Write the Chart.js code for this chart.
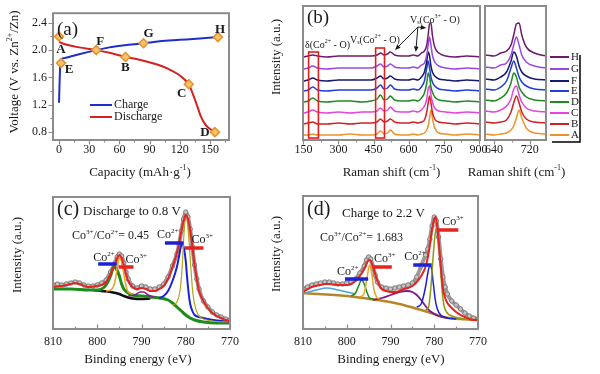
<!DOCTYPE html>
<html>
<head>
<meta charset="utf-8">
<title>Co3O4 cathode: voltage profile, Raman and XPS</title>
<script src="https://cdn.jsdelivr.net/npm/chart.js"></script>
<style>
  body { margin: 0; background: #ffffff; }
  #fig { position: relative; width: 600px; height: 374px; background: #ffffff; overflow: hidden; }
  #fig canvas { position: absolute; }
</style>
</head>
<body>
<div id="fig">
  <canvas id="chartA" width="245" height="186" style="left:0;top:0"></canvas>
  <canvas id="chartB1" width="240" height="186" style="left:258px;top:0"></canvas>
  <canvas id="chartB2" width="160" height="186" style="left:440px;top:0"></canvas>
  <canvas id="chartC" width="245" height="188" style="left:0;top:186px"></canvas>
  <canvas id="chartD" width="240" height="188" style="left:258px;top:186px"></canvas>
</div>

<script>
// ---------- (a) charge / discharge profile ----------
const chargeCap = [0, 0.3, 0.7, 1.2, 2, 4, 10, 20, 37, 50, 65, 84, 100, 120, 140, 158];
const chargeVolt = [1.23, 1.4, 1.6, 1.78, 1.86, 1.88, 1.9, 1.94, 2.0, 2.04, 2.07, 2.1, 2.13, 2.15, 2.17, 2.19];
const dischargeCap = [0, 3, 10, 20, 37, 50, 66, 80, 95, 108, 118, 124, 129, 133, 137, 141, 145, 149, 155];
const dischargeVolt = [2.12, 2.1, 2.07, 2.04, 2.0, 1.96, 1.9, 1.86, 1.8, 1.73, 1.65, 1.58, 1.5, 1.36, 1.2, 1.03, 0.92, 0.86, 0.8];
const stateLabels = ['A', 'B', 'C', 'D', 'E', 'F', 'G', 'H'];
const stateCap = [0, 66, 129, 155, 2, 37, 84, 158];
const stateVolt = [2.2, 1.9, 1.5, 0.8, 1.81, 2.0, 2.1, 2.19];
const capTicks = [0, 30, 60, 90, 120, 150];
const voltTicks = [0.8, 1.2, 1.6, 2.0, 2.4];

// ---------- (b) Raman spectra, stacked (intensity in a.u.) ----------
const ramanShift = [150, 170, 190, 210, 250, 300, 350, 400, 440, 465, 480, 495, 510, 522, 540, 570,
                    600, 620, 640, 655, 668, 678, 684, 690, 696, 702, 712, 730, 760, 800, 850, 906];
const ramanA = [5, 5, 6, 5, 5, 5, 6, 5, 5, 6, 9, 6, 7, 10, 6, 5, 5, 6, 5, 6, 7, 10, 14, 22, 30, 22, 12, 7, 6, 5, 6, 5];
const ramanB = [16, 17, 18, 16, 16, 17, 16, 17, 17, 18, 21, 18, 19, 21, 18, 17, 17, 18, 17, 18, 20, 28, 37, 44, 37, 28, 21, 18, 17, 16, 17, 16];
const ramanC = [27, 28, 30, 28, 27, 28, 27, 28, 28, 29, 32, 29, 30, 33, 29, 28, 28, 29, 28, 30, 34, 41, 51, 54, 45, 38, 32, 29, 28, 27, 28, 27];
const ramanD = [38, 39, 42, 39, 38, 39, 39, 38, 39, 41, 45, 40, 41, 44, 40, 39, 39, 40, 39, 42, 47, 57, 67, 63, 53, 48, 43, 40, 39, 38, 39, 38];
const ramanE = [49, 50, 53, 50, 49, 50, 50, 50, 50, 52, 55, 51, 52, 55, 51, 50, 50, 51, 50, 53, 59, 72, 79, 72, 63, 58, 54, 51, 50, 49, 50, 49];
const ramanF = [59, 60, 62, 60, 59, 60, 60, 60, 60, 62, 64, 61, 62, 64, 61, 60, 60, 61, 60, 63, 68, 79, 88, 84, 74, 68, 64, 61, 60, 59, 60, 59];
const ramanG = [71, 72, 74, 72, 71, 72, 72, 72, 72, 74, 76, 73, 74, 76, 73, 72, 72, 73, 72, 75, 77, 85, 95, 103, 95, 85, 78, 74, 72, 71, 72, 71];
const ramanH = [83, 84, 85, 84, 83, 84, 84, 84, 84, 85, 87, 85, 86, 88, 85, 84, 84, 85, 84, 87, 89, 95, 105, 116, 117, 105, 93, 87, 84, 83, 84, 83];
const ramanSpectra = [ramanA, ramanB, ramanC, ramanD, ramanE, ramanF, ramanG, ramanH];
const ramanColors = ['#ec922c', '#cf2222', '#e246de', '#1f8a22', '#1f3fd6', '#17186e', '#9b48e2', '#6e1b6e'];
const ramanTicks = [150, 300, 450, 600, 750, 900];
const ramanZoomTicks = [640, 720];

// ---------- (c) XPS Co 2p, discharged to 0.8 V: [binding energy, intensity] ----------
const cRaw = [[810, 44], [809, 45], [808, 44], [807, 45], [806, 46], [805, 47], [804, 46], [803, 44], [802, 43], [801, 43],
  [800, 44], [799, 46], [798, 49], [797, 57], [796, 66], [795.5, 72], [795, 75], [794.5, 73], [794, 66], [793.5, 57],
  [793, 50], [792, 43], [791, 41], [790, 43], [789, 42], [788, 40], [787, 40], [786, 42], [785, 45], [784, 52], [783, 63],
  [782, 75], [781.5, 85], [781, 98], [780.5, 110], [780, 117], [779.5, 112], [779, 100], [778.5, 82], [778, 64],
  [777.5, 50], [777, 40], [776, 28], [775, 22], [774, 17], [773, 14], [772, 12], [771, 10], [770, 9]];
const cFit = [[810, 42], [808, 43], [806, 45], [805, 46], [804, 45], [802, 42], [800, 43], [799, 44], [798, 47], [797, 55],
  [796, 65], [795.5, 71], [795, 74], [794.5, 71], [794, 64], [793.5, 55], [793, 48], [792, 42], [791, 40], [790, 41],
  [789, 40], [788, 38], [787, 38], [786, 40], [785, 43], [784, 50], [783, 62], [782, 76], [781.5, 86], [781, 98],
  [780.5, 108], [780, 114], [779.5, 110], [779, 99], [778.5, 82], [778, 64], [777.5, 50], [777, 38], [776, 28],
  [775, 21], [774, 16], [773, 13], [772, 11], [771, 9], [770, 8]];
const cCo2Low = [[810, 40], [806, 40], [802, 39], [800, 39], [799, 40], [798, 44], [797, 53], [796.3, 62], [795.8, 61],
  [795, 53], [794.5, 45], [794, 40], [793, 36], [792, 34], [790, 33], [788, 32], [786, 31], [784, 29], [783, 26],
  [782, 22], [781, 18], [780, 14], [779, 11], [778, 9], [776, 7], [773, 6], [770, 6]];
const cShirley = [[801, 39], [799, 38], [797, 37], [795, 35], [794, 33], [793, 31.5], [792, 30.5], [790, 30], [788, 30.5]];
const cCo2High = [[786, 31], [785, 33], [784, 38], [783, 48], [782, 62], [781.5, 73], [781, 84], [780.7, 85], [780.3, 78],
  [780, 68], [779.7, 52], [779.3, 34], [779, 25], [778.5, 18], [778, 14], [777, 12], [775, 10], [772, 8], [770, 7]];
const cCo3High = [[783, 24], [782, 27], [781.3, 38], [780.8, 62], [780.4, 95], [780, 112], [779.6, 106], [779.2, 84],
  [778.8, 58], [778.4, 36], [778, 25], [777.5, 17], [777, 13], [776, 10], [774, 8], [770, 7]];
const cCo3Low = [[798, 38], [797, 39], [796.3, 43], [795.8, 52], [795.3, 66], [794.9, 72], [794.5, 67], [794, 55],
  [793.5, 43], [793, 37], [792, 35]];
const cSat790 = [[793, 33], [791.5, 34], [790.3, 37], [789.5, 37], [788.5, 34], [787, 32]];
const cSat805 = [[808, 42], [806.5, 44], [805, 46], [803.5, 44], [802, 41]];
const cBarSpan = [[799.8, 795.6], [795.2, 791.8], [784.7, 780.5], [780.2, 776.0]];
const cBarLevel = [65, 62, 86, 81];
const cIonSpot = [[798.5, 71], [791.2, 69], [784.1, 94], [776.3, 89]];

// ---------- (d) XPS Co 2p, charged to 2.2 V ----------
const dRaw = [[810, 40], [809, 42], [808, 44], [807, 45], [806, 46], [805, 47], [804, 47], [803, 46], [802, 45], [801, 45],
  [800, 46], [799, 47], [798, 50], [797, 56], [796, 63], [795.5, 69], [795, 72], [794.5, 70], [794, 62], [793.5, 54],
  [793, 47], [792, 42], [791, 41], [790, 40], [789, 41], [788, 42], [787, 43], [786, 44], [785, 46], [784, 52], [783, 63],
  [782, 74], [781.5, 80], [781, 90], [780.5, 103], [780, 112], [779.5, 108], [779, 92], [778.5, 70], [778, 52],
  [777.5, 42], [777, 35], [776, 28], [775, 24], [774, 20], [773, 16], [772, 13], [771, 11], [770, 10]];
const dFit = [[810, 37], [808, 42], [806, 44], [805, 45], [804, 45], [802, 44], [800, 44], [799, 45], [798, 48], [797, 53],
  [796, 60], [795.5, 65], [795, 69], [794.5, 68], [794, 62], [793.5, 55], [793, 48], [792, 40], [791, 38], [790, 37],
  [789, 37], [788, 38], [787, 40], [786, 41], [785, 43], [784, 47], [783, 53], [782, 62], [781.5, 71], [781, 84],
  [780.5, 100], [780, 110], [779.7, 112], [779.3, 102], [779, 88], [778.5, 62], [778, 40], [777.5, 31], [777, 26],
  [776, 21], [775, 17], [774, 14], [773, 12], [772, 10], [771, 9], [770, 9]];
const dBackground = [[810, 36], [800, 33], [793, 29], [788, 25], [783, 19], [780, 15], [778, 12], [774, 10], [770, 9]];
const dSat805 = [[809.5, 36], [807, 39], [804.5, 41], [802, 39], [800, 37], [798, 35]];
const dCo2Low = [[799, 33], [798, 36], [797.3, 43], [796.6, 49], [796, 45], [795.4, 37], [794.8, 31], [794, 30]];
const dCo3Low = [[797, 32], [796, 36], [795.4, 50], [794.8, 64], [794.3, 56], [793.8, 40], [793.2, 32], [792.5, 30]];
const dSat786 = [[794, 29], [792, 31], [790, 34], [788, 37], [786.3, 38], [785, 37], [784, 34], [783, 29], [782, 23],
  [781, 18], [780, 15], [779, 13], [777, 11]];
const dCo2High = [[784, 22], [783, 25], [782.5, 32], [782, 42], [781.5, 55], [781, 64], [780.6, 60], [780.2, 45],
  [779.8, 30], [779.3, 20], [778.5, 14], [777, 11], [775, 10]];
const dCo3High = [[782, 19], [781.3, 22], [780.8, 40], [780.3, 70], [779.8, 95], [779.4, 101], [779, 92], [778.6, 65],
  [778.2, 38], [777.8, 24], [777.2, 17], [776, 13], [773, 10]];
const dBarSpan = [[800.4, 795.1], [793.9, 789.7], [784.8, 780.6], [779.4, 774.5]];
const dBarLevel = [50, 62, 64, 99];
const dIonSpot = [[799.8, 57], [791.3, 70], [784.4, 72], [775.7, 107]];

const ionNames = ['Co^{2+}', 'Co^{3+}', 'Co^{2+}', 'Co^{3+}'];
const ionColors = ['#1a22d6', '#e8231f', '#1a22d6', '#e8231f'];
const energyTicks = [770, 780, 790, 800, 810];

// ---------- drawing helpers ----------
const SERIF = "'Liberation Serif', 'DejaVu Serif', serif";
const INK = '#1a1a1a';
const FRAME = '#8c8c8c';

Chart.defaults.font.family = SERIF;
Chart.defaults.color = INK;

const xy = (xs, ys) => xs.map((x, i) => ({ x, y: ys[i] }));
const pts = pairs => pairs.map(([x, y]) => ({ x, y }));

// text with ^{..} superscripts and _{..} subscripts
function richText(ctx, str, x, y, size, align, weight) {
  const parts = [];
  const re = /([\^_])\{([^}]*)\}/g;
  let last = 0, m;
  while ((m = re.exec(str))) {
    if (m.index > last) parts.push({ t: str.slice(last, m.index), k: '' });
    parts.push({ t: m[2], k: m[1] });
    last = re.lastIndex;
  }
  if (last < str.length) parts.push({ t: str.slice(last), k: '' });
  const fontFor = p => `${weight || 'normal'} ${p.k ? Math.round(size * 0.62) : size}px ${SERIF}`;
  let w = 0;
  parts.forEach(p => { ctx.font = fontFor(p); p.w = ctx.measureText(p.t).width; w += p.w; });
  let cx = align === 'center' ? x - w / 2 : (align === 'right' ? x - w : x);
  ctx.save();
  ctx.fillStyle = INK;
  ctx.textBaseline = 'middle';
  ctx.textAlign = 'left';
  parts.forEach(p => {
    ctx.font = fontFor(p);
    const dy = p.k === '^' ? -size * 0.36 : (p.k === '_' ? size * 0.28 : 0);
    ctx.fillText(p.t, cx, y + dy);
    cx += p.w;
  });
  ctx.restore();
}

function verticalText(ctx, str, x, y, size) {
  ctx.save();
  ctx.translate(x, y);
  ctx.rotate(-Math.PI / 2);
  richText(ctx, str, 0, 0, size, 'center');
  ctx.restore();
}

function arrow(ctx, x0, y0, x1, y1) {
  const ang = Math.atan2(y1 - y0, x1 - x0);
  ctx.beginPath();
  ctx.moveTo(x0, y0);
  ctx.lineTo(x1 - 4 * Math.cos(ang), y1 - 4 * Math.sin(ang));
  ctx.stroke();
  ctx.beginPath();
  ctx.moveTo(x1, y1);
  ctx.lineTo(x1 - 6 * Math.cos(ang - 0.4), y1 - 6 * Math.sin(ang - 0.4));
  ctx.lineTo(x1 - 6 * Math.cos(ang + 0.4), y1 - 6 * Math.sin(ang + 0.4));
  ctx.closePath();
  ctx.fill();
}

// gray box round the plot area plus tick marks
const framePlugin = {
  id: 'frame',
  defaults: { outward: false },
  afterDatasetsDraw(chart, args, opts) {
    const { ctx, chartArea: a, scales } = chart;
    const dir = opts.outward ? -1 : 1;
    ctx.save();
    ctx.strokeStyle = FRAME;
    ctx.lineWidth = 1.2;
    ctx.beginPath();
    scales.x.ticks.forEach(t => {
      const p = Math.round(scales.x.getPixelForValue(t.value)) + 0.5;
      const len = t.minor ? 2.5 : 4.5;
      ctx.moveTo(p, a.bottom);
      ctx.lineTo(p, a.bottom - dir * len);
    });
    if (scales.y.options.display) {
      scales.y.ticks.forEach(t => {
        const p = Math.round(scales.y.getPixelForValue(t.value)) + 0.5;
        const len = t.minor ? 2.5 : 4.5;
        ctx.moveTo(a.left, p);
        ctx.lineTo(a.left + dir * len, p);
      });
    }
    ctx.stroke();
    ctx.lineWidth = 2;
    ctx.strokeRect(a.left, a.top, a.right - a.left, a.bottom - a.top);
    ctx.restore();
  }
};
Chart.register(framePlugin);

function axis(o) {
  const ticks = o.major.map(v => ({ value: v }))
    .concat((o.minor || []).map(v => ({ value: v, minor: true })))
    .sort((p, q) => p.value - q.value);
  return {
    type: 'linear',
    display: o.display !== false,
    min: o.min,
    max: o.max,
    reverse: !!o.reverse,
    bounds: 'data',
    grid: { display: false, drawTicks: false },
    border: { display: false },
    ticks: {
      autoSkip: false,
      maxRotation: 0,
      padding: o.pad || 0,
      color: INK,
      font: { size: 12, family: SERIF },
      callback: (v, i, t) => (t[i] && t[i].minor) ? '' : (o.fmt ? o.fmt(v) : String(v))
    },
    afterBuildTicks: s => { s.ticks = ticks.map(t => Object.assign({}, t)); },
    afterFit: s => { if (s.isHorizontal()) s.height = o.size; else s.width = o.size; }
  };
}

function curve(data, color, width, order, extra) {
  return Object.assign({
    data, borderColor: color, borderWidth: width, pointRadius: 0,
    cubicInterpolationMode: 'monotone', fill: false, order
  }, extra || {});
}

function panel(id, o) {
  return new Chart(document.getElementById(id), {
    type: 'line',
    data: { datasets: o.datasets },
    options: {
      responsive: false,
      animation: false,
      events: [],
      layout: { padding: o.pad },
      scales: { x: axis(o.x), y: axis(o.y) },
      plugins: {
        legend: { display: false },
        tooltip: { enabled: false },
        frame: { outward: !!o.outward }
      }
    },
    plugins: [{ id: 'notes', afterDraw: o.notes }]
  });
}

// ---------- (a) ----------
const letterOffset = { A: [2, 13], B: [0, 11], C: [-7, 9], D: [-10, 1], E: [8, 7], F: [4, -8], G: [5, -10], H: [2, -7] };

panel('chartA', {
  pad: { left: 0, top: 5, right: 16, bottom: 0 },
  outward: true,
  x: { min: -6, max: 169, major: capTicks, minor: [15, 45, 75, 105, 135, 165], size: 46, pad: 3 },
  y: { min: 0.685, max: 2.54, major: voltTicks, minor: [1.0, 1.4, 1.8, 2.2], size: 53, pad: 6, fmt: v => v.toFixed(1) },
  datasets: [
    curve(xy(stateCap, stateVolt), '#e8912a', 1.5, 0, {
      showLine: false, pointStyle: 'rectRot', pointRadius: 4.5,
      pointBackgroundColor: '#f7c46c', pointBorderColor: '#e8912a', pointBorderWidth: 1.5
    }),
    curve(xy(chargeCap, chargeVolt), '#1f2fc4', 2, 1),
    curve(xy(dischargeCap, dischargeVolt), '#d42222', 2, 2)
  ],
  notes(chart) {
    const { ctx, chartArea: a, scales: { x, y } } = chart;
    ctx.save();
    ctx.fillStyle = INK;
    ctx.textBaseline = 'middle';
    ctx.font = `19px ${SERIF}`;
    ctx.fillText('(a)', a.left + 4, a.top + 17);
    ctx.font = `bold 13px ${SERIF}`;
    ctx.textAlign = 'center';
    stateLabels.forEach((s, i) => {
      const [dx, dy] = letterOffset[s];
      ctx.fillText(s, x.getPixelForValue(stateCap[i]) + dx, y.getPixelForValue(stateVolt[i]) + dy);
    });
    // legend
    ctx.lineWidth = 2;
    [['Charge', '#1f2fc4', 105], ['Discharge', '#d42222', 117]].forEach(([name, col, ly]) => {
      ctx.strokeStyle = col;
      ctx.beginPath();
      ctx.moveTo(a.left + 37, ly);
      ctx.lineTo(a.left + 59, ly);
      ctx.stroke();
      richText(ctx, name, a.left + 61, ly, 12, 'left');
    });
    verticalText(ctx, 'Voltage (V vs. Zn^{2+}/Zn)', 15, 72, 13);
    richText(ctx, 'Capacity (mAh\u00b7g^{-1})', 140, 173, 13, 'center');
    ctx.restore();
  }
});

// ---------- (b) ----------
const ramanBoxes = [[172, 214, 2, 88], [459, 497, 2, 92]];
const ramanArrows = [[640, 113, 542, 90], [640, 113, 631, 88], [640, 113, 676, 112]];

function ramanSets() {
  return ramanSpectra.map((s, i) => curve(xy(ramanShift, s), ramanColors[i], 1.5, 7 - i));
}

panel('chartB1', {
  pad: { left: 0, top: 6, right: 18, bottom: 0 },
  outward: true,
  x: { min: 148, max: 906, major: ramanTicks, minor: [225, 375, 525, 675, 825], size: 46, pad: 3 },
  y: { min: 0, max: 134, major: [], size: 45 },
  datasets: ramanSets(),
  notes(chart) {
    const { ctx, chartArea: a, scales: { x, y } } = chart;
    ctx.save();
    ctx.strokeStyle = '#e02020';
    ctx.lineWidth = 1.6;
    ramanBoxes.forEach(([x0, x1, y0, y1]) => {
      const l = x.getPixelForValue(x0), r = x.getPixelForValue(x1);
      const t = y.getPixelForValue(y1), b = y.getPixelForValue(y0);
      ctx.strokeRect(l, t, r - l, b - t);
    });
    ctx.strokeStyle = INK;
    ctx.fillStyle = INK;
    ctx.lineWidth = 1;
    ramanArrows.forEach(([x0, y0, x1, y1]) => arrow(ctx,
      x.getPixelForValue(x0), y.getPixelForValue(y0), x.getPixelForValue(x1), y.getPixelForValue(y1)));
    ctx.font = `19px ${SERIF}`;
    ctx.textBaseline = 'middle';
    ctx.fillText('(b)', a.left + 4, a.top + 12);
    richText(ctx, '\u03b4(Co^{2+} - O)', a.left + 2, 45, 10, 'left');
    richText(ctx, 'V_{s}(Co^{2+} - O)', a.left + 47, 40, 10, 'left');
    richText(ctx, 'V_{s}(Co^{3+} - O)', a.left + 107, 20, 10, 'left');
    verticalText(ctx, 'Intensity (a.u.)', 19, 57, 13);
    richText(ctx, 'Raman shift (cm^{-1})', (a.left + a.right) / 2, 173, 13, 'center');
    ctx.restore();
  }
});

panel('chartB2', {
  pad: { left: 45, top: 6, right: 54, bottom: 0 },
  outward: true,
  x: { min: 620, max: 756, major: ramanZoomTicks, minor: [680], size: 46, pad: 3 },
  y: { min: 0, max: 134, major: [], size: 0, display: false },
  datasets: ramanSets(),
  notes(chart) {
    const { ctx, chartArea: a, scales: { y } } = chart;
    ctx.save();
    ctx.lineWidth = 2;
    ramanSpectra.forEach((s, i) => {
      const ly = y.getPixelForValue(s[s.length - 1]);
      ctx.strokeStyle = ramanColors[i];
      ctx.beginPath();
      ctx.moveTo(a.right + 4, ly);
      ctx.lineTo(a.right + 23, ly);
      ctx.stroke();
      richText(ctx, stateLabels[i], a.right + 25, ly, 11, 'left');
    });
    ctx.strokeStyle = '#000';
    ctx.lineWidth = 1.5;
    ctx.beginPath();
    ctx.moveTo(a.right + 34, 55);
    ctx.lineTo(a.right + 34, 142);
    ctx.lineTo(a.right + 6, 142);
    ctx.stroke();
    richText(ctx, 'Raman shift (cm^{-1})', (a.left + a.right) / 2 + 1, 173, 13, 'center');
    ctx.restore();
  }
});

// ---------- (c) and (d) ----------
function barSets(spans, levels) {
  return spans.map((s, i) => curve([{ x: s[0], y: levels[i] }, { x: s[1], y: levels[i] }], ionColors[i], 3.5, 0,
    { cubicInterpolationMode: 'default', tension: 0 }));
}

function rawSet(data) {
  return curve(pts(data), '#9a9a9a', 4, 20, {
    pointRadius: 2.2, pointBorderColor: '#7d7d7d', pointBackgroundColor: '#c4c4c4', pointBorderWidth: 1
  });
}

function ionLabels(ctx, x, y, spots) {
  spots.forEach(([e, v], i) => richText(ctx, ionNames[i], x.getPixelForValue(e), y.getPixelForValue(v), 12, 'center'));
}

const xpsMinor = [775, 785, 795, 805];

panel('chartC', {
  pad: { left: 0, top: 11, right: 15, bottom: 0 },
  x: { min: 770, max: 810, reverse: true, major: energyTicks, minor: xpsMinor, size: 45, pad: 6 },
  y: { min: 0, max: 132, major: [], size: 53 },
  datasets: [
    ...barSets(cBarSpan, cBarLevel),
    curve(pts(cFit), '#e8231f', 2, 1),
    curve(pts(cCo3High), '#b5a21c', 1.2, 2),
    curve(pts(cCo2High), '#1a22d6', 2, 3),
    curve(pts(cCo3Low), '#f2a020', 1.5, 4),
    curve(pts(cSat790), '#8b1a8b', 1.5, 5),
    curve(pts(cSat805), '#4aa6dc', 1.5, 6),
    curve(pts(cCo2Low), '#1c8c1c', 3, 7),
    curve(pts(cShirley), '#111111', 2.5, 8),
    rawSet(cRaw)
  ],
  notes(chart) {
    const { ctx, chartArea: a, scales: { x, y } } = chart;
    ctx.save();
    ctx.fillStyle = INK;
    ctx.textBaseline = 'middle';
    ctx.font = `20px ${SERIF}`;
    ctx.fillText('(c)', a.left + 4, a.top + 13);
    richText(ctx, 'Discharge to 0.8 V', a.left + 30, a.top + 15, 13, 'left');
    richText(ctx, 'Co^{3+}/Co^{2+}= 0.45', a.left + 19, a.top + 39, 12, 'left');
    ionLabels(ctx, x, y, cIonSpot);
    verticalText(ctx, 'Intensity (a.u.)', 18, 69, 13);
    richText(ctx, 'Binding energy (eV)', 138, 174, 13, 'center');
    ctx.restore();
  }
});

panel('chartD', {
  pad: { left: 0, top: 10, right: 20, bottom: 0 },
  x: { min: 770, max: 810, reverse: true, major: energyTicks, minor: xpsMinor, size: 45, pad: 6 },
  y: { min: 0, max: 133, major: [], size: 45 },
  datasets: [
    ...barSets(dBarSpan, dBarLevel),
    curve(pts(dFit), '#e8231f', 2, 1),
    curve(pts(dCo3High), '#8a9a10', 1.5, 2),
    curve(pts(dCo2High), '#1a22d6', 1.5, 3),
    curve(pts(dCo3Low), '#f2a020', 1.5, 4),
    curve(pts(dCo2Low), '#1c8c1c', 1.5, 5),
    curve(pts(dSat786), '#7e1a86', 1.8, 6),
    curve(pts(dSat805), '#4aa6dc', 1.5, 7),
    curve(pts(dBackground), '#b8862a', 2.5, 8),
    rawSet(dRaw)
  ],
  notes(chart) {
    const { ctx, chartArea: a, scales: { x, y } } = chart;
    ctx.save();
    ctx.fillStyle = INK;
    ctx.textBaseline = 'middle';
    ctx.font = `20px ${SERIF}`;
    ctx.fillText('(d)', a.left + 4, a.top + 14);
    richText(ctx, 'Charge to 2.2 V', a.left + 39, a.top + 18, 13, 'left');
    richText(ctx, 'Co^{3+}/Co^{2+}= 1.683', a.left + 17, a.top + 42, 12, 'left');
    ionLabels(ctx, x, y, dIonSpot);
    verticalText(ctx, 'Intensity (a.u.)', 19, 68, 13);
    richText(ctx, 'Binding energy (eV)', 133, 174, 13, 'center');
    ctx.restore();
  }
});
</script>
</body>
</html>
